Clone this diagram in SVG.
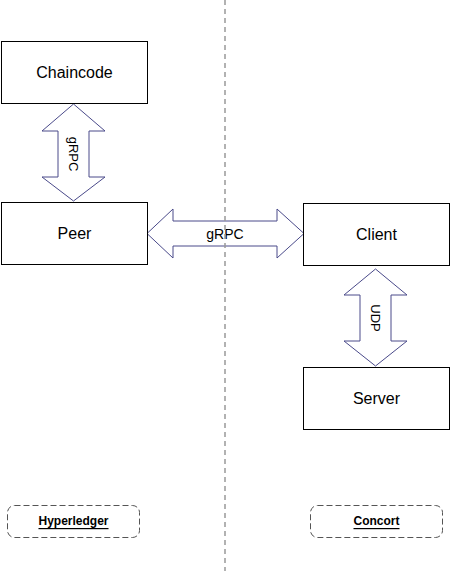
<svg xmlns="http://www.w3.org/2000/svg" width="450" height="571" viewBox="0 0 450 571">
<style>
.box{fill:#fff;stroke:#000;stroke-width:1}
.lbl{font-family:"Liberation Sans",Arial,sans-serif;font-size:16px;fill:#000;text-anchor:middle;dominant-baseline:central}
.arr{fill:#fff;stroke:#4a4a8a;stroke-width:1;stroke-linejoin:miter}
.alb{font-family:"Liberation Sans",Arial,sans-serif;font-size:13px;fill:#000;text-anchor:middle;dominant-baseline:central}
.grp{fill:#fff;stroke:#555;stroke-width:1;stroke-dasharray:6 3}
.glb{font-family:"Liberation Sans",Arial,sans-serif;font-size:12px;font-weight:bold;fill:#000;text-anchor:middle;text-decoration:underline;dominant-baseline:central}
</style>
<rect width="450" height="571" fill="#fff"/>
<g id="connectors">
<g id="chaincode-peer">
<path class="arr" d="M73.5,104 L105,131 L89,131 L89,177 L105,177 L73.5,201 L42,177 L58,177 L58,131 L42,131 Z"/>
<text class="alb" transform="translate(73.5,154) rotate(90)">gRPC</text>
</g>
<g id="peer-client">
<path class="arr" d="M147,233.5 L173,209 L173,221 L277,221 L277,209 L304,233.5 L277,258 L277,246 L173,246 L173,258 Z"/>
<text class="alb" x="225" y="234" style="font-size:14px">gRPC</text>
</g>
<g id="client-server">
<path class="arr" d="M375.5,269 L407,295 L391,295 L391,341 L407,341 L375.5,366 L344,341 L360,341 L360,295 L344,295 Z"/>
<text class="alb" transform="translate(375.5,318) rotate(90)">UDP</text>
</g>
</g>
<line id="divider" x1="225" y1="0" x2="225" y2="571" stroke="#999" stroke-width="1.5" stroke-dasharray="5 4"/>
<g id="chaincode">
<rect class="box" x="1.5" y="41.5" width="146" height="62"/>
<text class="lbl" x="74.5" y="72.5">Chaincode</text>
</g>
<g id="peer">
<rect class="box" x="1.5" y="202.5" width="146" height="62"/>
<text class="lbl" x="74.5" y="233.5">Peer</text>
</g>
<g id="client">
<rect class="box" x="303.5" y="203.5" width="146" height="62"/>
<text class="lbl" x="376.5" y="234.5">Client</text>
</g>
<g id="server">
<rect class="box" x="303.5" y="367.5" width="146" height="62"/>
<text class="lbl" x="376.5" y="398.5">Server</text>
</g>
<g id="hyperledger">
<rect class="grp" x="7.5" y="505.5" width="132" height="32" rx="7"/>
<text class="glb" x="73.5" y="521">Hyperledger</text>
</g>
<g id="concort">
<rect class="grp" x="310.5" y="505.5" width="132" height="32" rx="7"/>
<text class="glb" x="376.5" y="521">Concort</text>
</g>
</svg>
